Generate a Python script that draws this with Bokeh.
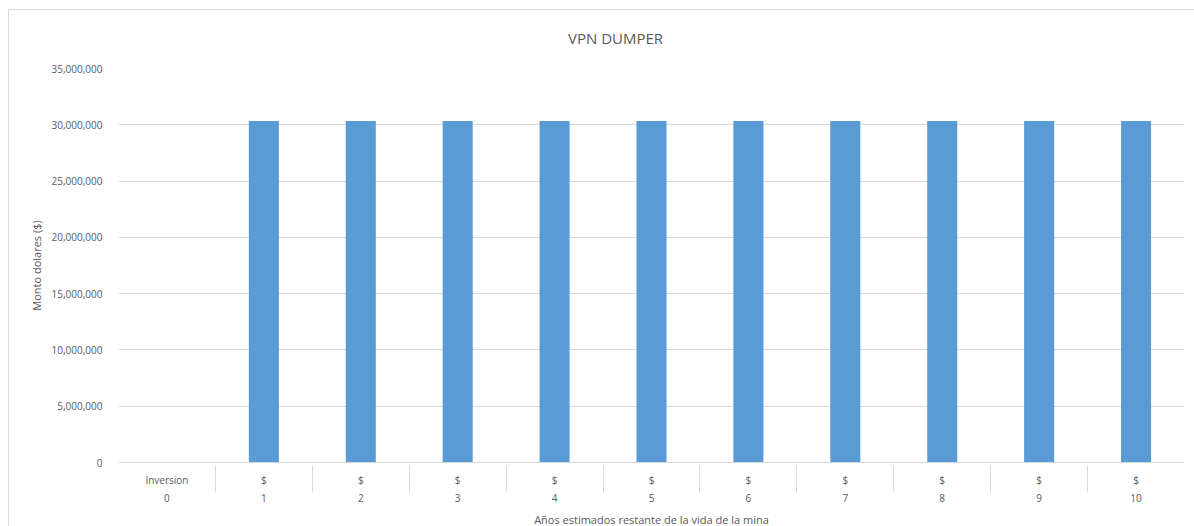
from bokeh.plotting import figure
from bokeh.models import FactorRange, NumeralTickFormatter, ColumnDataSource, FixedTicker, Div
from bokeh.layouts import column
from bokeh.embed import file_html
from bokeh.resources import INLINE

years = ["0", "1", "2", "3", "4", "5", "6", "7", "8", "9", "10"]
row_labels = ["Inversion", "$", "$", "$", "$", "$", "$", "$", "$", "$", "$"]
values = [0, 30330000, 30330000, 30330000, 30330000, 30330000,
          30330000, 30330000, 30330000, 30330000, 30330000]
y_ticks = [0, 5000000, 10000000, 15000000, 20000000, 25000000, 30000000, 35000000]
chart_title = "VPN DUMPER"

factors = list(zip(years, row_labels))
src = ColumnDataSource(dict(x=factors, top=values))

FONT = "Open Sans"
GRAY = "#595959"

title_div = Div(
    text=('<div style="padding-left:554px;padding-top:13px;font-family:\'Open Sans\';'
          'font-size:15px;line-height:20px;color:#595959;white-space:nowrap">'
          + chart_title + '</div>'),
    width=1178, height=40)

p = figure(x_range=FactorRange(*factors, group_padding=0, subgroup_padding=0, range_padding=0),
           y_range=(0, 35000000),
           width=1178, height=472, output_backend="svg", toolbar_location=None,
           min_border_left=109, min_border_right=3, min_border_top=8, min_border_bottom=70)

p.vbar(x="x", top="top", width=0.31, source=src, fill_color="#5b9bd5", line_color=None)

p.outline_line_color = None
p.xgrid.grid_line_color = None
p.ygrid.grid_line_color = "#d9d9d9"
p.ygrid.grid_line_width = 1

p.yaxis.ticker = FixedTicker(ticks=y_ticks)
p.yaxis.formatter = NumeralTickFormatter(format="0,0")
p.yaxis.axis_line_color = None
p.yaxis.major_tick_line_color = None
p.yaxis.minor_tick_line_color = None
p.yaxis.major_label_text_font = FONT
p.yaxis.major_label_text_font_size = "10px"
p.yaxis.major_label_text_color = GRAY
p.yaxis.axis_label = "Monto dolares ($)"
p.yaxis.axis_label_text_font = FONT
p.yaxis.axis_label_text_font_size = "11px"
p.yaxis.axis_label_text_font_style = "normal"
p.yaxis.axis_label_text_color = GRAY
p.yaxis.major_label_standoff = 10

xa = p.xaxis[0]
xa.axis_line_color = "#d9d9d9"
xa.major_tick_line_color = None
xa.minor_tick_line_color = None
xa.major_label_text_font = FONT
xa.major_label_text_font_size = "10px"
xa.major_label_text_color = GRAY
xa.group_text_font = FONT
xa.group_text_font_size = "10px"
xa.group_text_color = GRAY
xa.group_text_font_style = "normal"
xa.major_label_standoff = 4
xa.separator_line_color = "#d9d9d9"
xa.separator_line_width = 1
xa.axis_label = "Años estimados restante de la vida de la mina"
xa.axis_label_text_font = FONT
xa.axis_label_text_font_size = "11px"
xa.axis_label_text_font_style = "normal"
xa.axis_label_text_color = GRAY
xa.axis_label_standoff = 7

layout = column(title_div, p, spacing=0)
layout.styles = {"margin-left": "8px", "margin-top": "9px", "border": "1px solid #d9d9d9",
                 "background-color": "white"}

open("out.html", "w").write(file_html(layout, INLINE))
